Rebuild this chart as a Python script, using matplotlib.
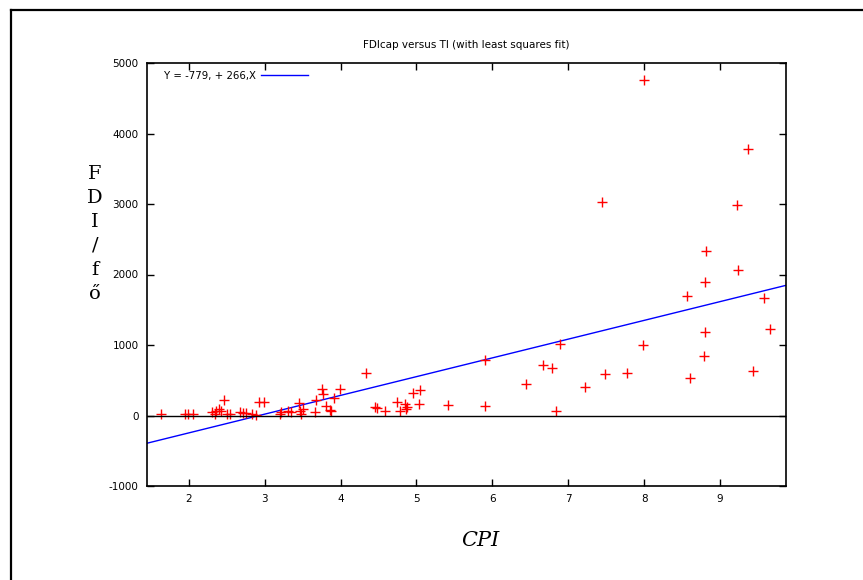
import numpy as np
import matplotlib
matplotlib.use("Agg")
import matplotlib.pyplot as plt
from matplotlib.lines import Line2D

plt.rcParams["axes.unicode_minus"] = False

# data
cpi = [1.64, 1.95, 1.99, 2.06, 2.31, 2.34, 2.36, 2.4, 2.42, 2.46, 2.5, 2.54,
       2.67, 2.72, 2.76, 2.83, 2.89, 2.92, 2.99, 3.2, 3.22, 3.31, 3.35,
       3.45, 3.46, 3.48, 3.5, 3.66, 3.68, 3.75, 3.77, 3.81, 3.86, 3.88,
       3.92, 3.99, 4.34, 4.45, 4.48, 4.59, 4.74, 4.78, 4.85, 4.86, 4.87,
       4.96, 5.03, 5.05, 5.42, 5.9, 5.91, 6.45, 6.67, 6.79, 6.84, 6.89,
       7.22, 7.45, 7.49, 7.77, 7.99, 8.0, 8.56, 8.61, 8.79, 8.8, 8.8,
       8.82, 9.22, 9.24, 9.37, 9.44, 9.58, 9.66]
fdi = [28, 28, 20, 15, 45, 25, 70, 95, 70, 222, 25, 15,
       45, 30, 30, 25, 12, 190, 190, 25, 45, 70, 45,
       175, 70, 25, 95, 45, 222, 380, 308, 132, 80, 70,
       250, 380, 600, 118, 104, 70, 190, 57, 165, 95, 118,
       316, 165, 364, 150, 128, 790, 450, 723, 677, 57, 1017,
       411, 3035, 582, 600, 1007, 4752, 1688, 530, 851, 1182, 1900,
       2340, 2979, 2057, 3780, 638, 1664, 1229]

fit_a = -779
fit_b = 266
fit_label = "Y = -779, + 266,X"

fig = plt.figure(figsize=(8.63, 5.80), dpi=100)
ax = fig.add_axes([147/863, 1-486/580, (786-147)/863, (486-63)/580])

xlim = (1.45, 9.87)
xs = np.array(xlim)
ax.plot(xs, fit_a + fit_b*xs, color="blue", lw=1, label=fit_label)
ax.plot(cpi, fdi, "+", color="red", ms=7, mew=1)
ax.axhline(0, color="black", lw=1)

ax.set_xlim(*xlim)
ax.set_ylim(-1000, 5000)
ax.set_xticks(range(2, 10))
ax.set_yticks(range(-1000, 5001, 1000))
ax.tick_params(direction="in", length=5, width=1, labelsize=7.5,
               top=True, right=True, pad=6)
for s in ax.spines.values():
    s.set_linewidth(1.2)

ax.set_title("FDIcap versus TI (with least squares fit)", fontsize=7.5, pad=11)
ax.legend(loc="upper left", frameon=False, fontsize=7.3, handlelength=4.6,
          handletextpad=0.5, markerfirst=False,
          bbox_to_anchor=(0.013, 1.003))

fig.text(95/863, 1-234/580, "F\nD\nI\n/\nf\nő", family="DejaVu Serif",
         fontsize=14, ha="center", va="center", linespacing=1.42)
fig.text(480/863, 1-540/580, "CPI", family="DejaVu Serif", style="italic",
         fontsize=15, ha="center", va="center")

# outer frame (top and left edges)
fig.add_artist(Line2D([11/863, 1], [1-10/580, 1-10/580], color="black", lw=1.6))
fig.add_artist(Line2D([11/863, 11/863], [0, 1-10/580], color="black", lw=1.6))

fig.savefig("out.png", dpi=100)
